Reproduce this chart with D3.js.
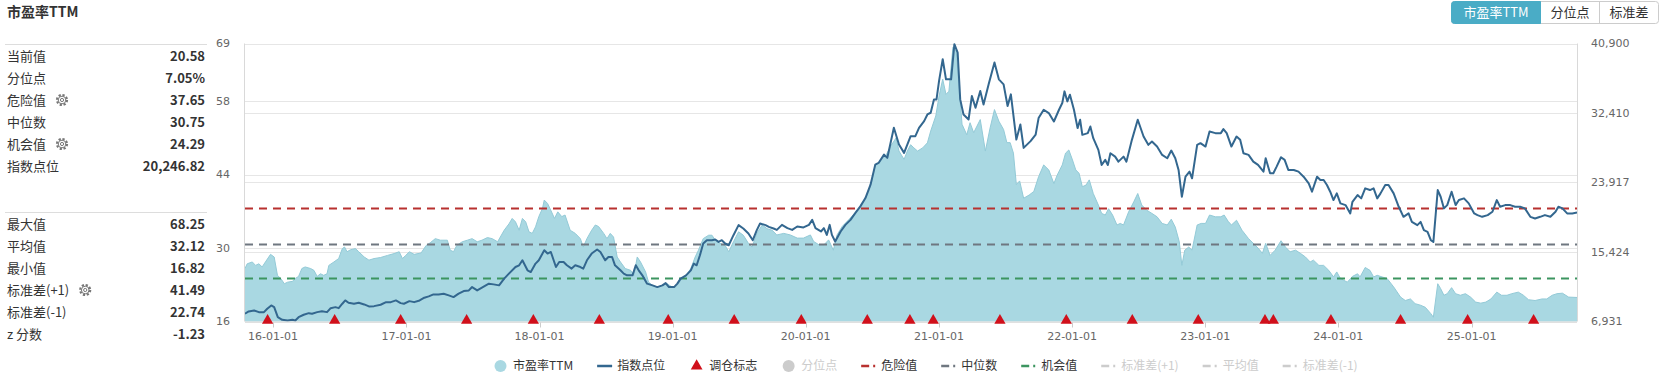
<!DOCTYPE html>
<html><head><meta charset="utf-8">
<script src="https://cdn.jsdelivr.net/npm/d3@7"></script>
<style>
html,body{margin:0;padding:0;background:#fff;}
svg{display:block;font-family:"Noto Sans CJK SC","Noto Sans",sans-serif;}
</style></head><body>
<svg id="c" width="1663" height="379"></svg>
<script>
// ---------------- data ----------------
const peDates = ["2015-10-16","2015-10-22","2015-11-05","2015-11-14","2015-11-23","2015-12-02","2015-12-11","2015-12-25","2016-01-04","2016-01-13","2016-01-22","2016-02-01","2016-02-10","2016-02-23","2016-03-02","2016-03-11","2016-03-20","2016-03-29","2016-04-13","2016-04-22","2016-05-01","2016-05-10","2016-05-19","2016-05-28","2016-06-02","2016-06-16","2016-06-29","2016-07-09","2016-07-15","2016-07-22","2016-08-01","2016-08-14","2016-08-23","2016-09-07","2016-09-20","2016-10-04","2016-10-22","2016-11-10","2016-11-28","2016-12-12","2016-12-21","2016-12-30","2017-01-09","2017-01-22","2017-02-10","2017-02-24","2017-03-07","2017-03-21","2017-04-04","2017-04-23","2017-05-01","2017-05-10","2017-05-19","2017-06-03","2017-06-17","2017-06-30","2017-07-14","2017-07-27","2017-08-11","2017-08-24","2017-09-08","2017-09-26","2017-10-09","2017-10-18","2017-10-27","2017-11-06","2017-11-15","2017-11-24","2017-12-03","2017-12-12","2017-12-21","2017-12-30","2018-01-09","2018-01-14","2018-01-23","2018-02-01","2018-02-11","2018-02-20","2018-03-03","2018-03-12","2018-03-26","2018-04-09","2018-04-23","2018-05-01","2018-05-11","2018-05-24","2018-06-03","2018-06-12","2018-06-26","2018-07-05","2018-07-14","2018-07-23","2018-08-02","2018-08-11","2018-08-24","2018-09-08","2018-09-17","2018-09-26","2018-10-05","2018-10-19","2018-10-27","2018-11-07","2018-11-20","2018-12-04","2018-12-17","2018-12-30","2019-01-10","2019-01-23","2019-02-07","2019-02-20","2019-03-04","2019-03-13","2019-03-26","2019-04-10","2019-04-19","2019-04-28","2019-05-11","2019-05-25","2019-06-04","2019-06-17","2019-07-01","2019-07-14","2019-07-28","2019-08-07","2019-08-20","2019-09-04","2019-09-17","2019-10-01","2019-10-14","2019-11-02","2019-11-20","2019-12-09","2019-12-26","2020-01-14","2020-01-23","2020-02-07","2020-02-20","2020-03-04","2020-03-17","2020-03-27","2020-04-10","2020-04-28","2020-05-16","2020-05-30","2020-06-13","2020-06-22","2020-07-01","2020-07-10","2020-07-19","2020-07-28","2020-08-07","2020-08-21","2020-09-05","2020-09-13","2020-09-27","2020-10-06","2020-10-15","2020-10-24","2020-11-03","2020-11-17","2020-11-30","2020-12-09","2020-12-23","2021-01-01","2021-01-11","2021-01-20","2021-01-28","2021-02-08","2021-02-17","2021-02-26","2021-03-05","2021-03-18","2021-03-27","2021-04-06","2021-04-15","2021-04-24","2021-05-08","2021-05-21","2021-06-02","2021-06-14","2021-06-27","2021-07-06","2021-07-15","2021-07-24","2021-08-01","2021-08-10","2021-08-21","2021-09-05","2021-09-18","2021-10-01","2021-10-15","2021-10-29","2021-11-12","2021-11-21","2021-12-05","2021-12-14","2021-12-23","2022-01-02","2022-01-11","2022-01-20","2022-01-29","2022-02-08","2022-02-17","2022-02-28","2022-03-14","2022-03-23","2022-04-02","2022-04-11","2022-04-22","2022-05-04","2022-05-13","2022-05-22","2022-06-05","2022-06-19","2022-06-30","2022-07-11","2022-07-25","2022-08-08","2022-08-22","2022-09-05","2022-09-19","2022-09-30","2022-10-11","2022-10-22","2022-10-29","2022-11-06","2022-11-17","2022-11-26","2022-12-10","2022-12-21","2023-01-02","2023-01-13","2023-01-29","2023-02-13","2023-02-22","2023-03-05","2023-03-14","2023-03-28","2023-04-12","2023-04-30","2023-05-13","2023-05-26","2023-06-07","2023-06-16","2023-06-28","2023-07-12","2023-07-28","2023-08-09","2023-08-22","2023-09-06","2023-09-19","2023-10-03","2023-10-16","2023-10-25","2023-11-09","2023-11-22","2023-12-06","2023-12-19","2023-12-28","2024-01-07","2024-01-26","2024-02-09","2024-02-23","2024-03-01","2024-03-15","2024-03-28","2024-04-07","2024-04-17","2024-04-30","2024-05-14","2024-06-01","2024-06-20","2024-07-03","2024-07-17","2024-07-30","2024-08-14","2024-08-27","2024-09-11","2024-09-18","2024-09-30","2024-10-08","2024-10-17","2024-10-26","2024-11-07","2024-11-18","2024-12-01","2024-12-15","2024-12-29","2025-01-12","2025-01-26","2025-02-09","2025-02-23","2025-03-11","2025-03-24","2025-04-08","2025-04-21","2025-05-09","2025-05-23","2025-06-06","2025-06-24","2025-07-13","2025-07-26","2025-08-10","2025-08-23","2025-09-07","2025-09-24","2025-10-17"];
const peValues = [26.1,27.0,27.35,26.7,27.0,26.4,27.35,28.8,28.3,24.8,24.2,23.2,23.5,23.65,24.2,24.6,26.1,26.4,26.1,25.75,24.6,25.1,24.8,25.1,26.7,27.35,28.0,29.9,30.2,29.3,29.7,29.9,29.3,28.3,27.7,28.0,28.2,28.6,28.95,29.3,28.0,28.6,29.3,28.8,29.07,30.5,31.0,31.8,31.5,31.5,29.6,29.3,30.5,31.2,31.5,31.8,31.2,31.5,32.0,31.8,31.2,33.4,34.6,35.65,35.0,33.4,35.65,35.0,33.1,32.8,34.05,36.0,37.55,39.15,38.5,37.2,35.65,36.9,36.0,36.3,33.4,32.8,31.8,30.2,31.8,33.4,34.4,34.1,32.8,31.8,32.8,32.1,28.3,27.35,26.1,25.75,24.8,28.3,27.35,25.45,23.5,22.9,22.56,22.9,23.2,22.6,22.6,23.85,24.8,26.1,28.3,29.6,31.8,32.45,32.45,31.5,30.9,30.5,29.3,31.2,33.1,32.45,30.9,30.2,32.8,34.4,33.7,33.4,32.5,32.8,32.5,31.9,31.9,32.5,31.25,30.6,30.6,31.56,29.6,32.5,34.1,35.4,36.7,37.9,39.5,40.8,43.0,45.9,46.2,47.2,47.5,49.4,51.0,48.5,46.9,48.5,49.7,49.1,48.5,49.1,50.06,52.3,55.2,59.0,62.2,59.3,59.9,68.25,67.6,59.9,53.6,51.6,53.9,52.0,53.25,54.5,48.5,52.9,56.4,54.2,52.6,50.1,50.1,48.1,42.1,42.8,39.5,40.1,40.8,43.6,45.85,44.9,42.3,43.9,45.85,48.1,48.7,46.8,44.9,44.26,41.7,42.0,43.0,40.4,38.2,36.6,36.3,37.5,36.3,34.4,34.7,34.4,36.9,38.8,40.4,38.2,37.2,36.6,35.96,34.7,34.4,35.5,34.0,31.2,26.7,29.6,30.2,29.6,34.4,34.7,34.7,36.3,35.96,35.96,36.3,35.1,34.4,35.3,33.4,31.8,30.9,30.0,29.0,30.9,28.6,29.6,31.4,30.2,29.3,29.6,29.0,28.3,27.35,27.7,26.7,26.7,25.75,24.5,25.45,24.2,23.5,24.6,25.1,24.5,26.3,25.75,24.5,24.8,24.5,24.2,22.6,20.65,20.0,20.3,19.4,19.1,18.7,17.5,16.82,23.2,22.26,21.0,21.3,22.45,21.3,21.0,21.3,20.65,19.7,19.5,19.7,20.3,21.6,21.0,21.0,21.3,21.6,21.0,20.15,20.0,20.3,20.3,21.0,21.3,21.4,20.65,20.58];

const indexDates = ["2015-10-16","2015-10-26","2015-11-10","2015-11-23","2015-12-07","2015-12-16","2015-12-27","2016-01-04","2016-01-14","2016-01-26","2016-02-10","2016-02-23","2016-03-02","2016-03-11","2016-03-25","2016-04-08","2016-04-17","2016-05-01","2016-05-14","2016-05-28","2016-06-07","2016-06-20","2016-06-29","2016-07-09","2016-07-17","2016-07-26","2016-08-10","2016-08-23","2016-09-07","2016-09-20","2016-10-04","2016-10-22","2016-11-06","2016-11-19","2016-12-03","2016-12-16","2016-12-25","2017-01-09","2017-01-22","2017-02-06","2017-02-19","2017-03-03","2017-03-16","2017-03-30","2017-04-13","2017-04-27","2017-05-10","2017-05-24","2017-06-07","2017-06-21","2017-06-30","2017-07-14","2017-07-27","2017-08-15","2017-08-28","2017-09-12","2017-09-26","2017-10-09","2017-10-27","2017-11-06","2017-11-15","2017-11-29","2017-12-08","2017-12-21","2017-12-30","2018-01-14","2018-01-23","2018-02-01","2018-02-15","2018-02-24","2018-03-08","2018-03-17","2018-03-30","2018-04-09","2018-04-23","2018-05-01","2018-05-11","2018-05-24","2018-06-08","2018-06-17","2018-06-30","2018-07-09","2018-07-19","2018-07-27","2018-08-11","2018-08-20","2018-08-29","2018-09-13","2018-09-22","2018-09-30","2018-10-10","2018-10-23","2018-11-07","2018-11-20","2018-12-04","2018-12-13","2018-12-22","2019-01-05","2019-01-14","2019-01-23","2019-02-07","2019-02-20","2019-02-28","2019-03-08","2019-03-17","2019-03-26","2019-04-05","2019-04-19","2019-04-28","2019-05-07","2019-05-16","2019-05-25","2019-06-04","2019-06-17","2019-07-01","2019-07-14","2019-07-28","2019-08-09","2019-08-20","2019-08-29","2019-09-13","2019-09-22","2019-10-05","2019-10-14","2019-10-28","2019-11-12","2019-11-25","2019-12-09","2019-12-26","2020-01-10","2020-01-19","2020-01-28","2020-02-12","2020-02-20","2020-02-28","2020-03-07","2020-03-13","2020-03-22","2020-04-06","2020-04-19","2020-05-03","2020-05-16","2020-05-30","2020-06-13","2020-06-27","2020-07-10","2020-07-19","2020-08-03","2020-08-12","2020-08-30","2020-09-13","2020-09-27","2020-10-15","2020-10-28","2020-11-07","2020-11-21","2020-11-30","2020-12-09","2020-12-18","2020-12-25","2021-01-01","2021-01-11","2021-01-20","2021-02-03","2021-02-12","2021-02-21","2021-02-28","2021-03-09","2021-03-23","2021-04-01","2021-04-11","2021-04-24","2021-05-03","2021-05-17","2021-06-02","2021-06-14","2021-06-27","2021-07-08","2021-07-17","2021-08-01","2021-08-12","2021-08-21","2021-09-09","2021-09-23","2021-10-01","2021-10-15","2021-10-29","2021-11-12","2021-11-26","2021-12-05","2021-12-11","2021-12-19","2021-12-26","2022-01-06","2022-01-16","2022-01-23","2022-01-29","2022-02-13","2022-02-20","2022-02-28","2022-03-14","2022-03-23","2022-04-02","2022-04-09","2022-04-16","2022-04-29","2022-05-08","2022-05-22","2022-05-30","2022-06-14","2022-06-30","2022-07-16","2022-07-29","2022-08-08","2022-08-22","2022-09-05","2022-09-19","2022-09-30","2022-10-11","2022-10-20","2022-10-29","2022-11-08","2022-11-19","2022-11-26","2022-12-10","2022-12-19","2023-01-02","2023-01-13","2023-01-29","2023-02-13","2023-02-20","2023-03-01","2023-03-14","2023-03-28","2023-04-07","2023-04-16","2023-04-30","2023-05-13","2023-05-26","2023-06-10","2023-06-16","2023-06-28","2023-07-07","2023-07-16","2023-07-28","2023-08-07","2023-08-17","2023-09-01","2023-09-14","2023-09-28","2023-10-12","2023-10-21","2023-11-04","2023-11-13","2023-11-22","2023-12-01","2023-12-10","2023-12-19","2023-12-28","2024-01-07","2024-01-21","2024-02-03","2024-02-09","2024-02-23","2024-03-04","2024-03-15","2024-03-28","2024-04-07","2024-04-17","2024-04-26","2024-05-09","2024-05-18","2024-06-01","2024-06-15","2024-06-28","2024-07-12","2024-07-21","2024-08-05","2024-08-14","2024-08-23","2024-09-02","2024-09-11","2024-09-18","2024-09-30","2024-10-08","2024-10-17","2024-10-26","2024-11-07","2024-11-18","2024-11-27","2024-12-11","2024-12-24","2025-01-08","2025-01-17","2025-01-30","2025-02-14","2025-02-27","2025-03-11","2025-03-20","2025-04-03","2025-04-17","2025-04-30","2025-05-14","2025-05-27","2025-06-11","2025-06-24","2025-07-08","2025-07-21","2025-08-05","2025-08-19","2025-08-27","2025-09-07","2025-09-20","2025-10-04","2025-10-17"];
const indexValues = [7875,8157,8280,8075,8075,8488,8893,8685,7458,7140,7054,7140,7054,7458,7753,7951,7875,8075,8194,8075,8562,8685,8562,9102,9506,9224,9102,9224,9016,8770,8808,8979,9297,9297,9506,9175,9102,9420,9297,9506,9837,9997,10242,10242,10328,10119,9911,10328,10647,10733,11137,10733,11063,11554,11468,11346,12167,12780,13590,13798,14412,13185,12977,14007,14412,15638,15233,15429,13590,14203,14203,13798,13394,13798,13590,13394,14412,15233,15723,15429,14412,14816,14816,13798,13185,12780,12572,12572,13798,13185,12572,11554,11346,11137,11346,11628,11137,11137,11554,12167,12572,13185,14007,13798,15025,16459,16864,16864,16950,16655,16864,16459,16251,17477,18703,18298,17686,16864,18090,18911,18703,18495,18298,18127,18740,18336,18127,18544,18421,18740,19353,18336,17931,18336,17514,18740,17514,16704,17931,18740,19353,20175,20997,22014,23646,26098,26307,27325,26920,30598,28551,27533,29581,29581,30598,31420,32230,32438,34070,34070,36325,38976,36524,36524,40814,39796,34070,32230,31616,34485,33051,35098,33456,35908,38569,36524,35908,33260,34683,29164,31004,28146,28968,29777,31788,32806,32401,31371,32806,33627,35050,33824,34645,32806,30562,31580,29740,29948,30758,29335,27900,26061,26674,26061,27496,27078,26466,27078,26466,29127,31580,29532,28514,28918,28306,27287,26882,27815,26882,25448,22174,24627,25240,24431,28514,28722,28306,30145,29948,29948,30440,29948,28306,29532,29127,27496,27287,26466,26061,25240,26882,25044,25044,25853,27005,26674,25448,25448,25240,24627,23800,22787,24627,24222,24222,23609,22787,21769,22587,21365,21156,20139,21560,22382,21977,23204,22995,23204,21977,22587,23609,23609,22587,20948,19721,20139,19108,18703,19108,18090,17882,16864,16655,22995,22174,20751,21156,22787,21156,21769,21977,21365,20139,19930,19721,19930,20343,21769,20948,21156,21156,20948,20948,20751,19721,19525,19721,19930,19721,20343,20948,20751,20139,20139,20247];

const rebalanceDates = ["2015-12-17","2016-06-18","2016-12-16","2017-06-15","2017-12-15","2018-06-14","2018-12-20","2019-06-19","2019-12-20","2020-06-18","2020-10-13","2020-12-16","2021-06-17","2021-12-16","2022-06-15","2022-12-13","2023-06-14","2023-07-07","2023-12-12","2024-06-20","2024-12-21","2025-06-20"];

const leftTicks = [16, 30, 44, 58, 69];
const rightTicks = [6931, 15424, 23917, 32410, 40900];
const xTickDates = ["2016-01-01","2017-01-01","2018-01-01","2019-01-01","2020-01-01","2021-01-01","2022-01-01","2023-01-01","2024-01-01","2025-01-01"];

const refNames = ["危险值", "中位数", "机会值"];
const refValues = [37.65, 30.75, 24.29];

const statLabels1 = ["当前值","分位点","危险值","中位数","机会值","指数点位"];
const statValues1 = ["20.58","7.05%","37.65","30.75","24.29","20,246.82"];
const statGear1 = [false,false,true,false,true,false];
const statLabels2 = ["最大值","平均值","最小值","标准差(+1)","标准差(-1)","z 分数"];
const statValues2 = ["68.25","32.12","16.82","41.49","22.74","-1.23"];
const statGear2 = [false,false,false,true,false,false];

const legendNames = ["市盈率TTM","指数点位","调仓标志","分位点","危险值","中位数","机会值","标准差(+1)","平均值","标准差(-1)"];
const buttonLabels = ["市盈率TTM","分位点","标准差"];

// ---------------- drawing ----------------
const parse = d3.timeParse("%Y-%m-%d");
const svg = d3.select("#c");
const L = 245, R = 1577, T = 43.5, B = 321.5;

const COL = {
  area: "#a9d8e2", areaStroke: "#93cad7", line: "#33678f",
  danger: "#b8312f", median: "#6f7780", chance: "#3c9560",
  grid: "#e6e6e6", axisText: "#666", text: "#333", tri: "#d0101b"
};
const refColors = [COL.danger, COL.median, COL.chance];

const pe = peDates.map((d, i) => ({ d: parse(d), v: peValues[i] }));
const idx = indexDates.map((d, i) => ({ d: parse(d), v: indexValues[i] }));

const x = d3.scaleTime().domain([parse(peDates[0]), parse(peDates[peDates.length - 1])]).range([L, R]);
const yL = d3.scaleLinear().domain([16, 69]).range([B, T]);
const yR = d3.scaleLinear().domain([6931, 40900]).range([B, T]);
const crisp = v => Math.round(v) + 0.5;

// gridlines
const g = svg.append("g");
g.selectAll("line.gl").data(leftTicks).join("line")
  .attr("x1", L).attr("x2", R).attr("y1", d => crisp(yL(d))).attr("y2", d => crisp(yL(d)))
  .attr("stroke", COL.grid).attr("stroke-width", 1);
g.selectAll("line.gr").data(rightTicks).join("line")
  .attr("x1", L).attr("x2", R).attr("y1", d => crisp(yR(d))).attr("y2", d => crisp(yR(d)))
  .attr("stroke", COL.grid).attr("stroke-width", 1);

// area
svg.append("path").datum(pe)
  .attr("d", d3.area().x(d => x(d.d)).y0(yL(16)).y1(d => yL(d.v)))
  .attr("fill", COL.area);
svg.append("path").datum(pe)
  .attr("d", d3.line().x(d => x(d.d)).y(d => yL(d.v)))
  .attr("fill", "none").attr("stroke", COL.areaStroke).attr("stroke-width", 1);

// reference dashed lines
svg.selectAll("line.ref").data(refValues).join("line")
  .attr("x1", L).attr("x2", R)
  .attr("y1", d => crisp(yL(d))).attr("y2", d => crisp(yL(d)))
  .attr("stroke", (d, i) => refColors[i]).attr("stroke-width", 2)
  .attr("stroke-dasharray", "8,6");

// index line
svg.append("path").datum(idx)
  .attr("d", d3.line().x(d => x(d.d)).y(d => yR(d.v)))
  .attr("fill", "none").attr("stroke", COL.line).attr("stroke-width", 2)
  .attr("stroke-linejoin", "round");

// borders
svg.append("line").attr("x1", L - 0.5).attr("x2", L - 0.5).attr("y1", T).attr("y2", B).attr("stroke", "#d9d9d9");
svg.append("line").attr("x1", R + 0.5).attr("x2", R + 0.5).attr("y1", T).attr("y2", B).attr("stroke", "#d9d9d9");
svg.append("line").attr("x1", L).attr("x2", R).attr("y1", B + 0.5).attr("y2", B + 0.5).attr("stroke", "#d9d9d9");

// rebalance triangles
const tri = d3.symbol().type(d3.symbolTriangle).size(55);
svg.selectAll("path.tri").data(rebalanceDates.map(parse)).join("path")
  .attr("d", tri)
  .attr("transform", d => `translate(${x(d)},${yL(16) - 1})`)
  .attr("fill", COL.tri);

// x axis
const xt = xTickDates.map(parse);
const fmt = d3.timeFormat("%y-%m-%d");
svg.selectAll("line.xt").data(xt).join("line")
  .attr("x1", d => crisp(x(d))).attr("x2", d => crisp(x(d)))
  .attr("y1", B + 1).attr("y2", B + 6).attr("stroke", "#ccc");
svg.selectAll("text.xl").data(xt).join("text")
  .attr("x", d => x(d)).attr("y", 336).attr("dy", "0.35em")
  .attr("text-anchor", "middle").attr("font-family", "DejaVu Sans").attr("font-size", 11)
  .attr("fill", COL.axisText).text(d => fmt(d));

// y axes labels
svg.selectAll("text.yl").data(leftTicks).join("text")
  .attr("x", 230).attr("y", d => yL(d)).attr("dy", "0.35em")
  .attr("text-anchor", "end").attr("font-family", "DejaVu Sans").attr("font-size", 11)
  .attr("fill", COL.axisText).text(d => d);
const fmtR = d3.format(",");
svg.selectAll("text.yr").data(rightTicks).join("text")
  .attr("x", 1591).attr("y", d => yR(d)).attr("dy", "0.35em")
  .attr("text-anchor", "start").attr("font-family", "DejaVu Sans").attr("font-size", 11)
  .attr("fill", COL.axisText).text(d => fmtR(d));

// ---------------- left panel ----------------
svg.append("text").attr("x", 7).attr("y", 17).attr("font-size", 14).attr("font-weight", "bold")
  .attr("fill", COL.text).text("市盈率TTM");

function gear(cx, cy) {
  const gg = svg.append("g").attr("transform", `translate(${cx},${cy})`);
  gg.append("circle").attr("r", 5).attr("fill", "none").attr("stroke", "#777")
    .attr("stroke-width", 2.2).attr("stroke-dasharray", "2.2,1.7");
  gg.append("circle").attr("r", 3.8).attr("fill", "#fff").attr("stroke", "#777").attr("stroke-width", 1);
  gg.append("circle").attr("r", 1.6).attr("fill", "none").attr("stroke", "#777").attr("stroke-width", 1);
}

function block(labels, values, gears, y0, sepY) {
  svg.append("line").attr("x1", 5).attr("x2", 207).attr("y1", sepY).attr("y2", sepY).attr("stroke", "#ddd");
  labels.forEach((lab, i) => {
    const yy = y0 + i * 22;
    const t = svg.append("text").attr("x", 7).attr("y", yy).attr("dy", "0.35em")
      .attr("font-size", 13).attr("fill", COL.text).text(lab);
    svg.append("text").attr("x", 205).attr("y", yy).attr("dy", "0.35em")
      .attr("text-anchor", "end").attr("font-size", 13).attr("font-weight", "bold")
      .attr("fill", COL.text).text(values[i]);
    if (gears[i]) {
      const w = t.node().getComputedTextLength();
      gear(7 + w + 16, yy);
    }
  });
}
block(statLabels1, statValues1, statGear1, 56, 44.5);
block(statLabels2, statValues2, statGear2, 224, 212.5);

// ---------------- buttons ----------------
const btnX = [1451.5, 1540.5, 1599.5, 1658.5];
const bg = svg.append("g");
bg.append("rect").attr("x", btnX[0]).attr("y", 1.5).attr("width", btnX[3] - btnX[0]).attr("height", 22)
  .attr("rx", 3).attr("fill", "#fff").attr("stroke", "#ccc");
bg.append("path")
  .attr("d", `M${btnX[1]},1.5 H${btnX[0] + 3} Q${btnX[0]},1.5 ${btnX[0]},4.5 V20.5 Q${btnX[0]},23.5 ${btnX[0] + 3},23.5 H${btnX[1]} Z`)
  .attr("fill", "#4aacc6").attr("stroke", "#4aacc6");
bg.append("line").attr("x1", btnX[2]).attr("x2", btnX[2]).attr("y1", 1.5).attr("y2", 23.5).attr("stroke", "#ccc");
buttonLabels.forEach((b, i) => {
  bg.append("text").attr("x", (btnX[i] + btnX[i + 1]) / 2).attr("y", 12.5).attr("dy", "0.35em")
    .attr("text-anchor", "middle").attr("font-size", 13)
    .attr("fill", i === 0 ? "#fff" : COL.text).text(b);
});

// ---------------- legend ----------------
const legendY = 366;
const legendEnabled = [true, true, true, false, true, true, true, false, false, false];
const legendColors = [COL.area, COL.line, COL.tri, "#ccc", COL.danger, COL.median, COL.chance, "#ccc", "#ccc", "#ccc"];
const legendKind = ["circle", "line", "tri", "circle", "dash", "dash", "dash", "dash", "dash", "dash"];
let lx = 493;
const lg = svg.append("g");
legendNames.forEach((name, i) => {
  const c = legendEnabled[i] ? legendColors[i] : "#ccc";
  const k = legendKind[i];
  if (k === "circle") {
    lg.append("circle").attr("cx", lx + 7.5).attr("cy", legendY).attr("r", 6).attr("fill", c);
  } else if (k === "line") {
    lg.append("line").attr("x1", lx).attr("x2", lx + 15).attr("y1", legendY).attr("y2", legendY)
      .attr("stroke", c).attr("stroke-width", 2.5);
  } else if (k === "tri") {
    lg.append("path").attr("d", d3.symbol().type(d3.symbolTriangle).size(60))
      .attr("transform", `translate(${lx + 7.5},${legendY})`).attr("fill", c);
  } else {
    lg.append("line").attr("x1", lx).attr("x2", lx + 15).attr("y1", legendY).attr("y2", legendY)
      .attr("stroke", c).attr("stroke-width", 2.5).attr("stroke-dasharray", "8,4,2,10");
  }
  const t = lg.append("text").attr("x", lx + 20).attr("y", legendY).attr("dy", "0.35em")
    .attr("font-size", 12).attr("fill", legendEnabled[i] ? COL.text : "#ccc").text(name);
  lx += 20 + t.node().getComputedTextLength() + 24;
});
</script>
</body></html>
